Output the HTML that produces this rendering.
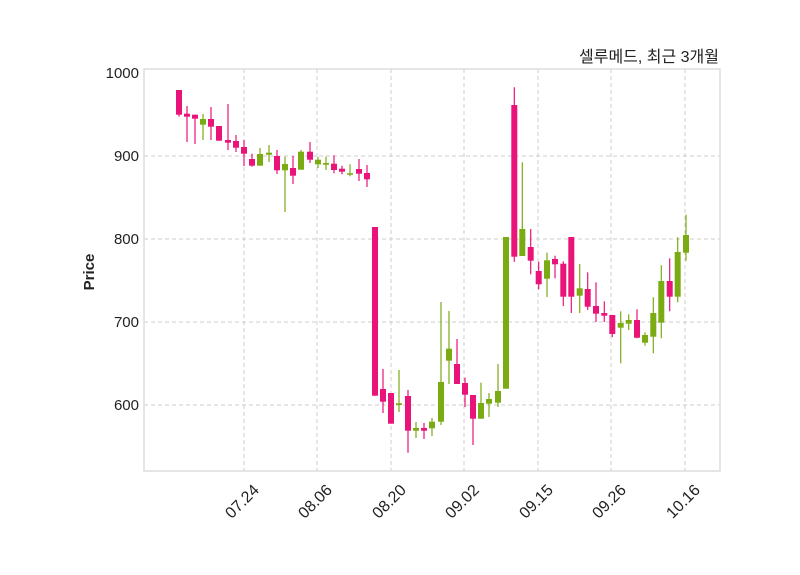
<!DOCTYPE html>
<html><head><meta charset="utf-8"><style>
body{margin:0;background:#fff;}
svg{display:block;font-family:"Liberation Sans","Noto Sans CJK KR",sans-serif;}
</style></head><body>
<svg id="s" width="800" height="575" viewBox="0 0 800 575" xmlns="http://www.w3.org/2000/svg">
<rect width="800" height="575" fill="#fff"/>
<g stroke="#cccccc" stroke-dasharray="4,3" stroke-width="1">
<line x1="144" y1="156" x2="720" y2="156"/><line x1="144" y1="239" x2="720" y2="239"/>
<line x1="144" y1="322" x2="720" y2="322"/><line x1="144" y1="405" x2="720" y2="405"/>
<line x1="244" y1="69" x2="244" y2="471"/><line x1="317" y1="69" x2="317" y2="471"/>
<line x1="391" y1="69" x2="391" y2="471"/><line x1="464" y1="69" x2="464" y2="471"/>
<line x1="538" y1="69" x2="538" y2="471"/><line x1="611" y1="69" x2="611" y2="471"/>
<line x1="685" y1="69" x2="685" y2="471"/>
</g>
<g id="c"></g>
<rect x="144" y="69" width="576" height="402" fill="none" stroke="#dddddd" stroke-width="1.5"/>
<g font-size="15" fill="#222" text-anchor="end">
<text x="139" y="78">1000</text><text x="139" y="161">900</text><text x="139" y="244">800</text>
<text x="139" y="327">700</text><text x="139" y="410">600</text>
</g>
<g font-size="16" fill="#222" text-anchor="end">
<text transform="translate(260,491) rotate(-45)">07.24</text>
<text transform="translate(333,491) rotate(-45)">08.06</text>
<text transform="translate(407,491) rotate(-45)">08.20</text>
<text transform="translate(480,491) rotate(-45)">09.02</text>
<text transform="translate(554,491) rotate(-45)">09.15</text>
<text transform="translate(627,491) rotate(-45)">09.26</text>
<text transform="translate(701,491) rotate(-45)">10.16</text>
</g>
<text transform="translate(94,272) rotate(-90)" font-size="15" font-weight="bold" fill="#222" text-anchor="middle">Price</text>
<text x="719" y="62" font-size="16" fill="#222" text-anchor="end">셀루메드, 최근 3개월</text>
</svg>
<script>
var d=[
[179,'p',90,114.7,90,116.7],[187,'p',113.7,116.7,106,142],[195,'p',114.7,118.7,114.7,144],
[203,'g',119,124.7,114,140],[211,'p',119,126.7,107,140],[219,'p',126,140.7,126,140.7],
[228,'p',140,142.7,104,150],[236,'p',141,147.7,135,152],[244,'p',147,153.7,140,166],
[252,'p',159,165.7,153.7,166.7],[260,'g',154,165.7,148,165.7],[269,'g',152.7,154.7,145,162],
[277,'p',156,170.3,150,174],[285,'g',164,170.3,156.7,212],[293,'p',168,175.7,156,184],
[301,'g',151.7,169.7,150,169.7],[310,'p',151.7,159.7,142,163],[318,'g',159.7,164.3,157,168],
[326,'g',163,164.7,156.7,170],[334,'p',163.7,170,155.3,173.3],[342,'p',168.7,171.7,165.7,174.3],
[350,'g',173.3,174.7,164.3,176.3],[359,'p',169,173.7,159,181],[367,'p',173,179.3,165,187],
[375,'p',227,395.7,227,395.7],[383,'p',389,401.7,369,413],[391,'p',393,423.7,393,423.7],
[399,'g',403.3,405,370,412],[408,'p',396,430.7,390,452.7],[416,'g',428,430.7,422,438],
[424,'p',428,430.7,423,439],[432,'g',421.7,428.3,418,436],[441,'g',382,421.7,302,425],
[449,'g',348.7,360.7,311,384],[457,'p',364,384,339,384],[465,'p',383,394.7,377.7,407],
[473,'p',395,418.7,395,445],[481,'g',403,418.7,382.7,418.7],[489,'g',399,403.7,393,417],
[498,'g',391,402.7,364,407],[506,'g',237,388.7,237,388.7],[514.3,'p',105,256.7,87.3,261.7],
[522.3,'g',229,256,162.3,256],[530.7,'p',247,260.7,229,274.3],[538.7,'p',271,284.3,261.7,289.3],
[547,'g',260.3,278.7,252.7,297],[555,'p',259,264.3,255.7,278.3],[563.3,'p',263.7,296.7,261.3,306],
[571.3,'p',237,296.7,237,313],[579.7,'g',288.3,295.7,264,313],[587.7,'p',289,306.7,272.3,310],
[596,'p',306,313.7,282.3,322],[604.3,'p',313,315.7,301.3,322],[612.3,'p',315,334,315,337],
[620.7,'g',323,327.7,311.3,363.3],[628.7,'g',320,323.7,314.3,330],[637,'p',320,337.7,309.3,338.3],
[645,'g',335,342.7,332.3,345.7],[653.3,'g',313,336.7,297.3,353.3],[661.3,'g',281,322.7,265.3,338.3],
[669.7,'p',281,296.7,258.3,311.3],[677.7,'g',252,296.7,237.3,302.3],[686,'g',235,252.7,214.7,260.7]];
var g=document.getElementById('c'),h='';
d.forEach(function(c){var col=c[1]=='p'?'#e8147a':'#7aab12';
h+='<line x1="'+c[0]+'" x2="'+c[0]+'" y1="'+c[4]+'" y2="'+c[5]+'" stroke="'+col+'" stroke-width="1.2"/>';
var hh=Math.max(c[3]-c[2],1.5);
h+='<rect x="'+(c[0]-3)+'" y="'+c[2]+'" width="6" height="'+hh+'" fill="'+col+'"/>';});
g.innerHTML=h;
</script>
</body></html>
